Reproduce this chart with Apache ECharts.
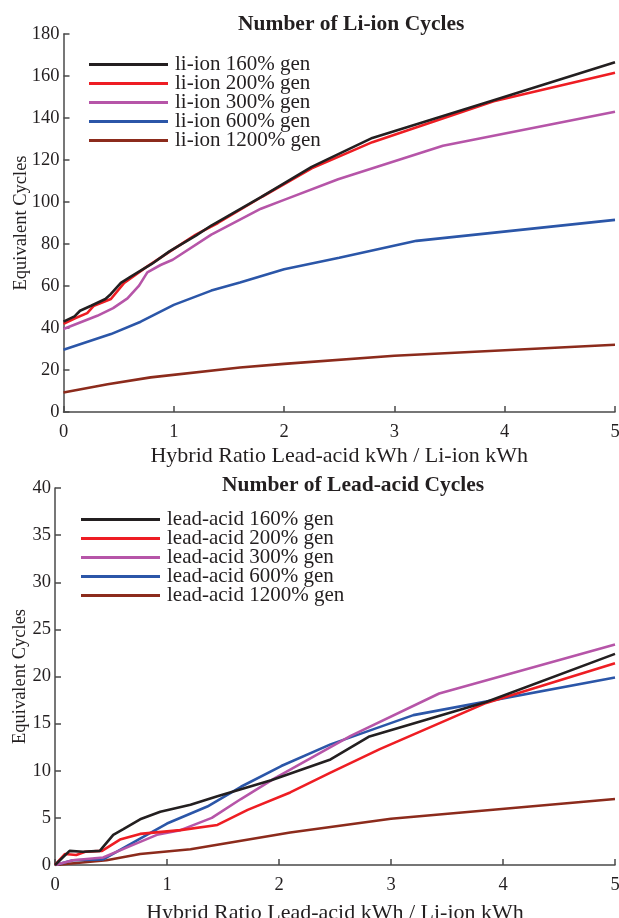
<!DOCTYPE html>
<html>
<head>
<meta charset="utf-8">
<script src="https://cdn.jsdelivr.net/npm/echarts@6/dist/echarts.min.js"></script>
<style>
  html, body { margin: 0; padding: 0; background: #fff; }
  #chart { width: 619px; height: 918px; }
</style>
</head>
<body>
<div id="chart"></div>
<script>
// [ratio, cycles] pairs
const li160 = [[0,43],[0.1,45.5],[0.15,48.2],[0.25,50.6],[0.38,53.8],[0.43,56.2],[0.52,61.5],[0.61,64.5],[0.8,70.5],[0.96,76.5],[1.2,84],[1.34,88.8],[1.79,102.3],[2.25,116.7],[2.8,130.5],[3.9,148.5],[5,166.5]];
const li200 = [[0,42],[0.1,44.5],[0.215,47.1],[0.276,50.6],[0.43,53.8],[0.55,61.5],[0.75,69],[0.98,77],[1.2,84.5],[1.4,90],[1.8,102.5],[2.25,116],[2.8,128.5],[3.9,148],[5,161.5]];
const li300 = [[0,39.5],[0.306,45.8],[0.45,49.5],[0.58,54.1],[0.685,60.2],[0.76,66.5],[0.88,70],[0.99,72.5],[1.34,84.5],[1.79,96.8],[2.0,101],[2.49,110.8],[3.44,126.8],[5,143]];
const li600 = [[0,29.6],[0.43,37.1],[0.7,43],[1.0,51],[1.34,57.8],[1.6,61.7],[2.0,68],[2.5,73.5],[3.2,81.5],[5,91.5]];
const li1200 = [[0,9.3],[0.4,13.2],[0.79,16.5],[1.6,21.2],[2,22.9],[3,26.8],[5,32]];

const la160 = [[0,0],[0.13,1.5],[0.25,1.4],[0.4,1.5],[0.52,3.2],[0.61,3.8],[0.76,4.85],[0.94,5.65],[1.21,6.4],[1.45,7.3],[1.93,9.0],[2.46,11.2],[2.8,13.6],[3.85,17.3],[5,22.4]];
const la200 = [[0,0],[0.09,1.17],[0.19,1.06],[0.27,1.4],[0.42,1.5],[0.58,2.7],[0.76,3.3],[1.12,3.7],[1.45,4.25],[1.72,5.85],[2.1,7.7],[2.46,9.8],[2.9,12.3],[3.85,17.2],[5,21.4]];
const la300 = [[0,0],[0.16,0.5],[0.43,0.8],[0.67,2.0],[0.91,3.2],[1.12,3.7],[1.4,5.0],[1.66,7.0],[1.96,9.2],[2.64,13.7],[3.43,18.2],[5,23.4]];
const la600 = [[0,0],[0.16,0.5],[0.43,0.6],[0.76,2.8],[1.0,4.4],[1.36,6.2],[1.66,8.3],[2.02,10.5],[2.46,12.8],[3.2,15.9],[5,19.9]];
const la1200 = [[0,0],[0.46,0.5],[0.76,1.17],[1.21,1.67],[2.1,3.44],[3.0,4.9],[5,7.0]];

const liNames = ['li-ion 160% gen','li-ion 200% gen','li-ion 300% gen','li-ion 600% gen','li-ion 1200% gen'];
const laNames = ['lead-acid 160% gen','lead-acid 200% gen','lead-acid 300% gen','lead-acid 600% gen','lead-acid 1200% gen'];
const colors = ['#231f20','#ee1d23','#b655a8','#2b56a8','#8c2b1c'];

const FONT = '"Liberation Serif", "Times New Roman", serif';
const axisColor = '#4a4a4a';
const textColor = '#231f20';

function xAxisFor(gridIndex, gap){
    return {
        gridIndex: gridIndex,
        type: 'value',
        min: 0, max: 5, interval: 1,
        name: 'Hybrid Ratio Lead-acid kWh / Li-ion kWh',
        nameLocation: 'middle',
        nameGap: gap,
        nameMoveOverlap: false,
        nameTextStyle: {fontFamily: FONT, fontSize: 22, color: textColor},
        axisLine: {lineStyle: {color: axisColor, width: 1.5}},
        axisTick: {inside: true, length: 6, lineStyle: {color: axisColor, width: 1.5}},
        axisLabel: {margin: 11, fontFamily: FONT, fontSize: 18.5, color: textColor},
        splitLine: {show: false}
    };
}

function yAxisFor(gridIndex, max, interval, gap){
    return {
        gridIndex: gridIndex,
        type: 'value',
        min: 0, max: max, interval: interval,
        name: 'Equivalent Cycles',
        nameLocation: 'middle',
        nameGap: gap,
        nameMoveOverlap: false,
        nameTextStyle: {fontFamily: FONT, fontSize: 18.5, color: textColor},
        axisLine: {show: true, lineStyle: {color: axisColor, width: 1.5}},
        axisTick: {show: true, inside: true, length: 6, lineStyle: {color: axisColor, width: 1.5}},
        axisLabel: {margin: 4, fontFamily: FONT, fontSize: 18.5, color: textColor},
        splitLine: {show: false}
    };
}

function lineSeries(name, data, i, gridIdx){
    return {
        name: name,
        type: 'line',
        xAxisIndex: gridIdx,
        yAxisIndex: gridIdx,
        data: data,
        symbol: 'none',
        color: colors[i],
        lineStyle: {color: colors[i], width: 2.6},
        z: 10 - i
    };
}

function legendFor(names, left, top){
    return {
        data: names,
        orient: 'vertical',
        left: left,
        top: top,
        itemGap: -2,
        itemWidth: 79,
        itemHeight: 3,
        icon: 'rect',
        textStyle: {fontFamily: FONT, fontSize: 21, color: textColor, padding: [0,0,0,2]}
    };
}

const liData = [li160, li200, li300, li600, li1200];
const laData = [la160, la200, la300, la600, la1200];

let series = [];
liData.forEach((d, i) => series.push(lineSeries(liNames[i], d, i, 0)));
laData.forEach((d, i) => series.push(lineSeries(laNames[i], d, i, 1)));

const option = {
    backgroundColor: '#fff',
    animation: false,
    title: [
        {text: 'Number of Li-ion Cycles', left: 233, top: 8,
         textStyle: {fontFamily: FONT, fontSize: 21.5, fontWeight: 'bold', color: textColor}},
        {text: 'Number of Lead-acid Cycles', left: 217, top: 469,
         textStyle: {fontFamily: FONT, fontSize: 21.5, fontWeight: 'bold', color: textColor}}
    ],
    legend: [
        legendFor(liNames, 84, 49),
        legendFor(laNames, 76, 504)
    ],
    grid: [
        {left: 63.5, right: 4, top: 34, height: 378, outerBoundsMode: 'none'},
        {left: 55, right: 4, top: 488, height: 377, outerBoundsMode: 'none'}
    ],
    xAxis: [xAxisFor(0, 33), xAxisFor(1, 37)],
    yAxis: [yAxisFor(0, 180, 20, 33), yAxisFor(1, 40, 5, 25)],
    series: series
};

const myChart = echarts.init(document.getElementById('chart'), null, {renderer: 'canvas'});
myChart.setOption(option);
</script>
</body>
</html>
